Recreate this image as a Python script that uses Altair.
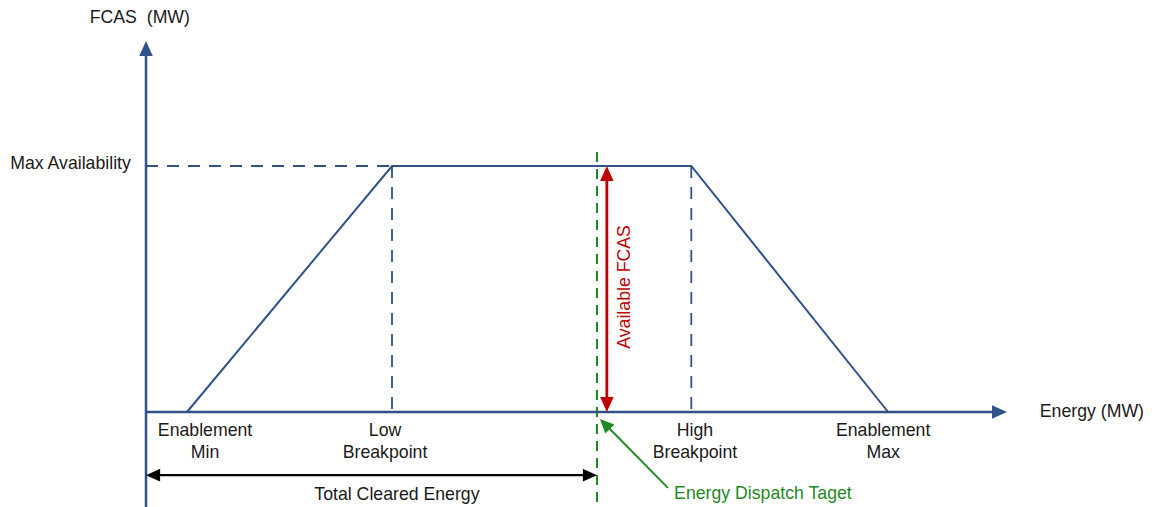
import altair as alt
import pandas as pd

# ---- schematic values (MW, schematic units) ----
enablement_min = 10
low_breakpoint = 60
dispatch_target = 110
high_breakpoint = 133
enablement_max = 181
max_availability = 60
energy_axis_end = 210
fcas_axis_end = 90.5
axis_bottom = -25
available_fcas_x = 112.4
cleared_arrow_y = -15.4
callout_tail = (127.3, -18.5)
callout_tip = (110.7, -1.7)

trap_e = [enablement_min, low_breakpoint, high_breakpoint, enablement_max]
trap_f = [0, max_availability, max_availability, 0]

tick_labels = ["Enablement\nMin", "Low\nBreakpoint", "High\nBreakpoint", "Enablement\nMax"]
tick_label_e = [14.4, 58.3, 133.9, 179.8]
tick_label_f = -4.6

BLUE = "#2F5289"
RED = "#C00000"
GREEN = "#1F8A24"
BLACK = "#000000"
TXT = "#1A1A1A"
FONT = "Liberation Sans"
FS = 17.7

# ---- scales: 4.1 px per unit, origin at pixel (146, 412) ----
PX = 4.1
W, H = 1136, 499
xmin = -(146 - 8) / PX
xmax = xmin + W / PX
ymax = (412 - 8) / PX
ymin = ymax - H / PX
xs = alt.Scale(domain=[xmin, xmax], nice=False, zero=False)
ys = alt.Scale(domain=[ymin, ymax], nice=False, zero=False)


def X(f):
    return alt.X(f, type="quantitative", scale=xs, axis=None)


def Y(f):
    return alt.Y(f, type="quantitative", scale=ys, axis=None)


def rules(rows, color, width, dash=None):
    df = pd.DataFrame(rows, columns=["e", "f", "e2", "f2"])
    kw = dict(color=color, strokeWidth=width)
    if dash:
        kw["strokeDash"] = dash
    return alt.Chart(df).mark_rule(**kw).encode(
        x=X("e"), y=Y("f"), x2="e2", y2="f2"
    )


axes = rules(
    [
        [0, axis_bottom, 0, fcas_axis_end - 2],
        [0, 0, energy_axis_end - 2, 0],
    ],
    BLUE,
    2.5,
)

dashed_blue = rules(
    [
        [0, max_availability, low_breakpoint, max_availability],
        [low_breakpoint, max_availability, low_breakpoint, 0],
        [high_breakpoint, max_availability, high_breakpoint, 0],
    ],
    BLUE,
    1.8,
    [12, 9],
)

trap = alt.Chart(
    pd.DataFrame({"e": trap_e, "f": trap_f, "o": list(range(len(trap_e)))})
).mark_line(color=BLUE, strokeWidth=2).encode(x=X("e"), y=Y("f"), order="o:Q")

green_dash = rules(
    [[dispatch_target, max_availability + 3.4, dispatch_target, axis_bottom]],
    GREEN,
    2,
    [10, 7],
)

red_arrow = rules(
    [[available_fcas_x, 2, available_fcas_x, max_availability - 2]], RED, 2.8
)

black_arrow = rules(
    [[1, cleared_arrow_y, dispatch_target - 1, cleared_arrow_y]], BLACK, 2.2
)

green_arrow = rules(
    [[callout_tail[0], callout_tail[1], callout_tip[0] + 1, callout_tip[1] - 1]],
    GREEN,
    2,
)

ARROW = "M0,0L-0.9,2L0.9,2Z"
heads = pd.DataFrame(
    [
        [0, fcas_axis_end, 0, BLUE, 225],
        [energy_axis_end, 0, 90, BLUE, 225],
        [available_fcas_x, max_availability, 0, RED, 225],
        [available_fcas_x, 0, 180, RED, 225],
        [0, cleared_arrow_y, 270, BLACK, 200],
        [dispatch_target, cleared_arrow_y, 90, BLACK, 200],
        [callout_tip[0], callout_tip[1], 315, GREEN, 200],
    ],
    columns=["e", "f", "ang", "col", "sz"],
)
arrowheads = alt.Chart(heads).mark_point(
    shape=ARROW, filled=True, opacity=1, strokeWidth=0
).encode(
    x=X("e"),
    y=Y("f"),
    angle=alt.Angle("ang:Q", scale=None),
    color=alt.Color("col:N", scale=None),
    size=alt.Size("sz:Q", scale=None),
)


def texts(rows, align, angle=0, lh=22):
    df = pd.DataFrame(rows, columns=["e", "f", "t", "col"])
    return alt.Chart(df).mark_text(
        align=align,
        baseline="middle",
        font=FONT,
        fontSize=FS,
        lineBreak="\n",
        lineHeight=lh,
        angle=angle,
    ).encode(x=X("e"), y=Y("f"), text="t:N", color=alt.Color("col:N", scale=None))


center_txt = texts(
    [[e, tick_label_f, t, TXT] for e, t in zip(tick_label_e, tick_labels)]
    + [[-1.5, 96.1, "FCAS\u00a0 (MW)", TXT], [61.2, -20.2, "Total Cleared Energy", TXT]],
    "center",
)
right_txt = texts([[-3.7, 60.5, "Max Availability", TXT]], "right")
left_txt = texts(
    [[218, 0, "Energy (MW)", TXT], [128.8, -20.0, "Energy Dispatch Taget", GREEN]],
    "left",
)
rot_txt = texts([[116.8, 30.5, "Available FCAS", RED]], "center", angle=270)

chart = alt.layer(
    dashed_blue,
    trap,
    green_dash,
    axes,
    red_arrow,
    black_arrow,
    green_arrow,
    arrowheads,
    center_txt,
    right_txt,
    left_txt,
    rot_txt,
).properties(
    width=W,
    height=H,
    autosize=alt.AutoSizeParams(type="none"),
    padding=0,
    background="white",
).configure_view(stroke=None)

chart.save("out.html", embed_options={"renderer": "svg", "actions": False})
